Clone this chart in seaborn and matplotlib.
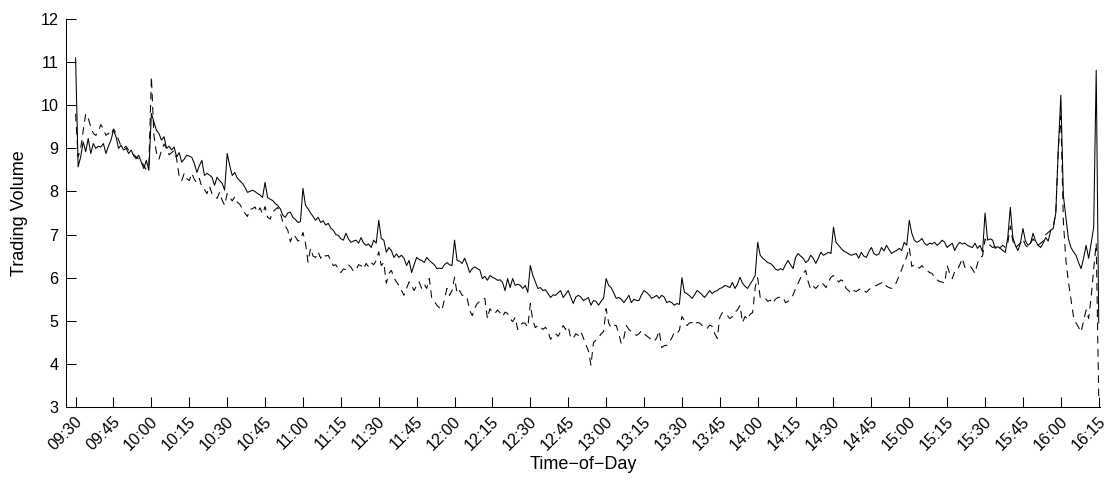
import numpy as np
import pandas as pd
import matplotlib
matplotlib.use("Agg")
import matplotlib.pyplot as plt
import matplotlib.transforms as mtransforms
import seaborn as sns

# Trading session covered by the intraday profile (one value per minute)
session_start = "09:30"
session_end = "16:15"

# Average trading volume per minute, solid series
volume_solid = [
    11.1, 8.57, 8.8, 9.15, 8.92, 9.23, 8.88, 9.11, 9.0, 9.05,
    9.03, 9.11, 8.88, 9.05, 9.19, 9.42, 9.27, 9.0, 9.07, 8.96,
    9.0, 8.88, 8.96, 8.82, 8.76, 8.84, 8.68, 8.53, 8.72, 8.49,
    9.81, 9.61, 9.42, 9.34, 9.19, 9.27, 9.0, 9.05, 8.96, 9.03,
    8.8, 8.9, 8.68, 8.75, 8.84, 8.82, 8.79, 8.65, 8.44, 8.6,
    8.72, 8.37, 8.42, 8.38, 8.33, 8.14, 8.33, 8.25, 8.19, 8.03,
    8.88, 8.6, 8.37, 8.44, 8.31, 8.25, 8.19, 8.1, 7.98, 8.0,
    8.03, 8.0, 7.95, 7.92, 7.86, 8.21, 7.86, 7.82, 7.79, 7.72,
    7.68, 7.6, 7.45, 7.4, 7.5, 7.52, 7.4, 7.35, 7.28, 7.3,
    8.07, 7.68, 7.6, 7.5, 7.42, 7.33, 7.4, 7.28, 7.32, 7.22,
    7.26, 7.15, 7.1, 7.0, 6.98, 6.9, 6.87, 7.03, 6.9, 6.82,
    6.85, 6.87, 6.8, 6.93, 6.8, 6.75, 6.78, 6.7, 6.87, 6.8,
    7.33, 6.91, 6.87, 6.59, 6.7, 6.63, 6.47, 6.55, 6.47, 6.52,
    6.45, 6.28, 6.4, 6.12, 6.3, 6.47, 6.42, 6.4, 6.35, 6.47,
    6.4, 6.35, 6.3, 6.21, 6.22, 6.21, 6.3, 6.35, 6.3, 6.28,
    6.87, 6.4, 6.38, 6.33, 6.45, 6.3, 6.12, 6.21, 6.25, 6.21,
    6.18, 5.98, 6.03, 5.94, 6.05, 6.01, 5.98, 5.94, 5.95, 5.89,
    5.7, 5.98, 5.77, 5.98, 5.82, 5.85, 5.82, 5.75, 5.82, 5.66,
    6.28, 6.05, 5.9, 5.75, 5.77, 5.7, 5.72, 5.63, 5.54, 5.6,
    5.59, 5.65, 5.7, 5.54, 5.62, 5.7, 5.55, 5.4, 5.55, 5.59,
    5.55, 5.47, 5.5, 5.54, 5.36, 5.47, 5.45, 5.36, 5.45, 5.52,
    5.98, 5.82, 5.77, 5.65, 5.52, 5.54, 5.5, 5.42, 5.5, 5.59,
    5.42, 5.5, 5.47, 5.47, 5.6, 5.7, 5.66, 5.6, 5.52, 5.55,
    5.59, 5.52, 5.59, 5.55, 5.42, 5.45, 5.42, 5.36, 5.4, 5.38,
    6.0, 5.66, 5.63, 5.58, 5.52, 5.6, 5.7, 5.66, 5.6, 5.54,
    5.62, 5.7, 5.63, 5.68, 5.7, 5.75, 5.77, 5.82, 5.8, 5.77,
    5.89, 5.75, 5.85, 6.01, 5.87, 5.8, 5.75, 5.85, 5.94, 6.05,
    6.82, 6.52, 6.45, 6.4, 6.35, 6.33, 6.28, 6.2, 6.17, 6.21,
    6.18, 6.3, 6.4, 6.3, 6.21, 6.47, 6.56, 6.5, 6.45, 6.35,
    6.4, 6.52, 6.45, 6.33, 6.45, 6.59, 6.52, 6.55, 6.59, 6.56,
    7.17, 6.82, 6.75, 6.68, 6.62, 6.59, 6.55, 6.52, 6.54, 6.56,
    6.45, 6.59, 6.5, 6.47, 6.6, 6.7, 6.56, 6.52, 6.55, 6.7,
    6.62, 6.75, 6.65, 6.56, 6.6, 6.63, 6.68, 6.63, 6.82, 6.75,
    7.33, 7.03, 6.87, 6.82, 6.85, 6.91, 6.8, 6.75, 6.8, 6.78,
    6.82, 6.75, 6.8, 6.87, 6.82, 6.7, 6.75, 6.8, 6.63, 6.75,
    6.82, 6.78, 6.8, 6.75, 6.72, 6.7, 6.8, 6.68, 6.75, 6.6,
    7.5, 6.87, 6.9, 6.87, 6.68, 6.72, 6.68, 6.63, 6.59, 6.93,
    7.63, 6.93, 6.75, 6.63, 6.8, 7.14, 6.85, 6.75, 6.8, 7.03,
    6.85, 6.75, 6.7, 6.8, 6.93, 6.85, 7.1, 7.14, 7.5, 9.0,
    10.23, 7.9, 7.4, 6.9, 6.7, 6.6, 6.52, 6.35, 6.21, 6.45,
    6.75, 6.45, 6.8, 7.17, 10.81, 4.95,
]

# Average trading volume per minute, dashed series
volume_dashed = [
    9.8, 8.8, 9.0, 9.4, 9.8, 9.7, 9.5, 9.35, 9.3, 9.4,
    9.55, 9.45, 9.3, 9.35, 9.3, 9.45, 9.35, 9.2, 9.05, 9.0,
    9.05, 8.95, 8.9, 8.85, 8.8, 8.75, 8.7, 8.6, 8.5, 8.6,
    10.66, 9.3, 8.9, 8.75, 8.95, 9.1, 9.0, 8.85, 8.9, 8.95,
    8.75, 8.35, 8.25, 8.42, 8.3, 8.25, 8.42, 8.28, 8.2, 8.3,
    8.1, 8.05, 7.95, 8.12, 7.95, 7.88, 7.84, 7.98, 7.8, 7.68,
    7.95, 7.87, 7.78, 7.88, 7.75, 7.7, 7.6, 7.5, 7.42, 7.58,
    7.6, 7.64, 7.52, 7.62, 7.48, 7.65, 7.4, 7.36, 7.52, 7.58,
    7.63, 7.5, 7.3, 7.2, 7.1, 6.83, 7.0, 6.95, 6.85, 6.87,
    7.05, 6.8, 6.36, 6.68, 6.5, 6.47, 6.6, 6.45, 6.55, 6.5,
    6.52, 6.4, 6.28, 6.3, 6.2, 6.12, 6.2, 6.19, 6.3, 6.24,
    6.15, 6.17, 6.3, 6.28, 6.2, 6.33, 6.25, 6.35, 6.3, 6.4,
    6.6, 6.28, 6.35, 5.87, 6.1, 6.17, 6.0, 5.9, 5.82, 5.7,
    5.59, 5.75, 5.9, 5.82, 5.7, 5.82, 5.9, 5.75, 5.85, 5.75,
    5.98, 5.52, 5.45, 5.36, 5.3, 5.24, 5.5, 5.75, 5.59, 5.7,
    6.01, 5.63, 5.7, 5.59, 5.6, 5.52, 5.24, 5.12, 5.3, 5.4,
    5.45, 5.5, 5.52, 5.05, 5.28, 5.2, 5.17, 5.25, 5.19, 5.1,
    5.2, 5.17, 5.05, 4.98, 5.08, 4.8, 4.9, 4.95, 4.94, 4.85,
    5.4, 5.0, 4.84, 4.9, 4.85, 4.8, 4.85, 4.75, 4.57, 4.65,
    4.7, 4.64, 4.75, 4.89, 4.8, 4.87, 4.6, 4.59, 4.7, 4.66,
    4.75, 4.6, 4.45, 4.3, 3.97, 4.5, 4.55, 4.6, 4.7, 4.75,
    5.28, 4.95, 4.84, 4.9, 4.89, 4.7, 4.47, 4.6, 4.89, 4.8,
    4.75, 4.7, 4.66, 4.7, 4.77, 4.7, 4.65, 4.61, 4.55, 4.52,
    4.6, 4.77, 4.38, 4.42, 4.43, 4.5, 4.6, 4.73, 4.7, 4.78,
    5.1, 5.01, 4.89, 4.95, 4.96, 4.9, 4.96, 4.95, 4.89, 4.85,
    4.82, 4.9, 4.87, 4.7, 4.59, 5.08, 5.19, 5.15, 5.12, 5.05,
    5.1, 5.2, 5.25, 5.36, 4.96, 5.1, 5.03, 5.15, 5.19, 5.77,
    6.0, 5.54, 5.55, 5.52, 5.45, 5.48, 5.4, 5.5, 5.54, 5.55,
    5.55, 5.42, 5.45, 5.52, 5.6, 5.75, 5.87, 6.0, 6.1, 6.17,
    5.9, 5.73, 5.8, 5.75, 5.82, 5.89, 5.85, 5.77, 5.9, 6.01,
    6.05, 5.98, 5.9, 5.95, 5.91, 5.75, 5.7, 5.63, 5.7, 5.68,
    5.72, 5.75, 5.7, 5.66, 5.72, 5.77, 5.8, 5.82, 5.85, 5.88,
    5.9, 5.8, 5.77, 5.75, 5.8, 5.9, 6.05, 6.19, 6.35, 6.49,
    6.7, 6.26, 6.3, 6.28, 6.22, 6.28, 6.2, 6.17, 6.12, 6.1,
    6.0, 5.95, 5.91, 5.9, 5.87, 6.28, 6.1, 5.98, 6.14, 6.17,
    6.3, 6.45, 6.24, 6.26, 6.28, 6.2, 6.1, 6.33, 6.47, 6.5,
    6.9, 6.8, 6.75, 6.7, 6.72, 6.65, 6.7, 6.75, 6.7, 6.8,
    7.2, 6.85, 6.7, 6.75, 6.8, 6.9, 6.75, 6.7, 6.8, 6.9,
    6.8, 6.75, 6.8, 6.85, 7.0, 7.05, 7.1, 7.2, 7.5, 9.0,
    9.75, 7.3, 6.4, 5.9, 5.5, 5.1, 4.95, 4.85, 4.74, 5.0,
    5.25, 5.05, 5.55, 6.2, 6.8, 3.2,
]

tick_labels = [
    "09:30", "09:45", "10:00", "10:15", "10:30", "10:45", "11:00",
    "11:15", "11:30", "11:45", "12:00", "12:15", "12:30", "12:45",
    "13:00", "13:15", "13:30", "13:45", "14:00", "14:15", "14:30",
    "14:45", "15:00", "15:15", "15:30", "15:45", "16:00", "16:15",
]
y_ticks = [3, 4, 5, 6, 7, 8, 9, 10, 11, 12]

# Minutes elapsed since the open, used as the numeric x position
times = pd.date_range(f"2000-01-01 {session_start}", f"2000-01-01 {session_end}", freq="1min")
minute = ((times - times[0]).total_seconds() / 60.0).to_numpy()
t0 = pd.to_datetime(session_start, format="%H:%M")
tick_minutes = [(pd.to_datetime(t, format="%H:%M") - t0).total_seconds() / 60.0 for t in tick_labels]

df = pd.concat([
    pd.DataFrame({"minute": minute, "volume": volume_solid, "series": "solid"}),
    pd.DataFrame({"minute": minute, "volume": volume_dashed, "series": "dashed"}),
], ignore_index=True)

sns.set_theme(style="ticks")
plt.rcParams["font.family"] = ["Liberation Sans", "DejaVu Sans"]
plt.rcParams["lines.scale_dashes"] = False
plt.rcParams["axes.unicode_minus"] = True

W, H = 1108, 480
fig = plt.figure(figsize=(W / 100, H / 100), dpi=100, facecolor="white")
ax = fig.add_axes([66 / W, (H - 407) / H, (1100 - 66) / W, (407 - 19) / H])
ax.set_facecolor("white")

sns.lineplot(
    data=df, x="minute", y="volume", style="series",
    style_order=["solid", "dashed"],
    dashes={"solid": "", "dashed": (5.5, 4.0)},
    color="black", linewidth=0.75, estimator=None, sort=False,
    legend=False, ax=ax,
)

ax.set_xlim(-3.8, 405.5)
ax.set_ylim(3, 12)
ax.set_yticks(y_ticks)
ax.set_yticklabels([str(v) for v in y_ticks])
ax.set_xticks(tick_minutes)
ax.set_xticklabels(tick_labels, rotation=45, ha="right", va="center",
                   rotation_mode="anchor")

sns.despine(ax=ax)
for side in ("left", "bottom"):
    ax.spines[side].set_color("black")
    ax.spines[side].set_linewidth(0.75)

ax.tick_params(axis="both", direction="in", length=7.5, width=0.75,
               colors="black", labelsize=11.6)
ax.tick_params(axis="y", pad=5.5)
ax.tick_params(axis="x", pad=0)

ax.set_ylabel("Trading Volume", fontsize=13, color="black")
ax.set_xlabel("Time\u2212of\u2212Day", fontsize=13, color="black")
ax.yaxis.set_label_coords(-0.037, 0.5)
ax.xaxis.set_label_coords(0.5, -0.127)

# Shift the slanted time labels so they sit just below and right of each tick
shift = mtransforms.ScaledTranslation(4.0 / 100, -12.0 / 100, fig.dpi_scale_trans)
for lbl in ax.get_xticklabels():
    lbl.set_transform(lbl.get_transform() + shift)

fig.savefig("out.png", dpi=100, facecolor="white")
